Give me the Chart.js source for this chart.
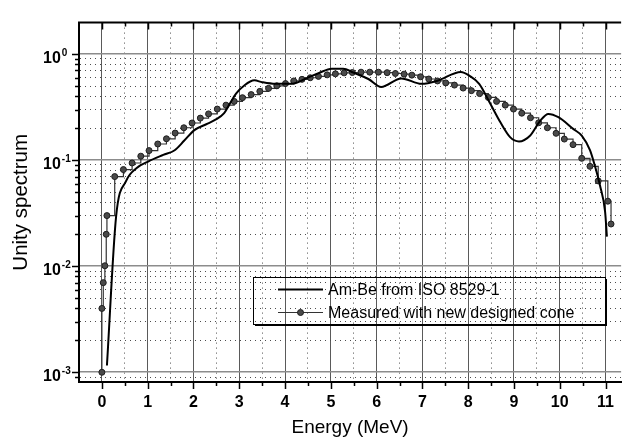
<!DOCTYPE html>
<html>
<head>
<meta charset="utf-8">
<script src="https://cdn.jsdelivr.net/npm/chart.js@4.4.0/dist/chart.umd.min.js"></script>
<style>
  html, body { margin: 0; padding: 0; background: #fff; overflow: hidden; }
</style>
</head>
<body>
<canvas id="myChart" width="625" height="437"></canvas>
<script>
// Am-Be reference spectrum (ISO 8529-1)
const isoEnergy = [0.11, 0.31, 0.53, 0.76, 1.01, 1.34, 1.59, 1.80, 2.02, 2.28, 2.49, 2.67, 2.78, 2.93, 3.11, 3.33,
  3.50, 3.79, 4.15, 4.51, 4.73, 5.02, 5.27, 5.49, 5.82, 6.10, 6.54, 6.98, 7.33, 7.84, 8.03, 8.24, 8.46, 8.71,
  8.92, 9.11, 9.35, 9.57, 9.75, 9.97, 10.30, 10.48, 10.66, 10.77, 10.88, 10.99, 11.03];
const isoValue = [0.00116, 0.0294, 0.0637, 0.0843, 0.097, 0.112, 0.124, 0.153, 0.192, 0.218, 0.242, 0.278, 0.332, 0.424, 0.506, 0.565,
  0.543, 0.524, 0.524, 0.603, 0.660, 0.729, 0.729, 0.670, 0.582, 0.489, 0.590, 0.524, 0.561, 0.679, 0.624, 0.524, 0.356, 0.225,
  0.164, 0.150, 0.170, 0.234, 0.273, 0.254, 0.196, 0.170, 0.124, 0.0874, 0.0573, 0.0327, 0.019];

// measured with the new cone
const measEnergy = [0, 0, 0.03, 0.065, 0.095, 0.11,
  0.28, 0.47, 0.66, 0.85, 1.03, 1.22, 1.41, 1.60, 1.79, 1.97, 2.15, 2.33, 2.52, 2.71, 2.89, 3.07,
  3.26, 3.45, 3.64, 3.82, 4.01, 4.19, 4.37, 4.55, 4.73, 4.92, 5.10, 5.29, 5.47, 5.66, 5.85, 6.04,
  6.23, 6.41, 6.60, 6.77, 6.96, 7.14, 7.33, 7.51, 7.70, 7.89, 8.07, 8.25, 8.44, 8.62, 8.81, 8.99,
  9.17, 9.36, 9.54, 9.73, 9.92, 10.10, 10.29, 10.48, 10.66, 10.84, 11.05, 11.12];
const measValue = [0.001, 0.004, 0.007, 0.0101, 0.02, 0.03,
  0.070, 0.0815, 0.094, 0.109, 0.123, 0.142, 0.159, 0.180, 0.202, 0.224, 0.249, 0.273, 0.303, 0.330, 0.358, 0.388,
  0.415, 0.445, 0.475, 0.502, 0.527, 0.558, 0.578, 0.598, 0.616, 0.637, 0.651, 0.665, 0.670, 0.675, 0.675, 0.675,
  0.668, 0.656, 0.647, 0.633, 0.611, 0.582, 0.558, 0.535, 0.510, 0.478, 0.452, 0.424, 0.390, 0.358, 0.330, 0.303,
  0.277, 0.251, 0.225, 0.202, 0.179, 0.158, 0.140, 0.104, 0.0874, 0.0637, 0.041, 0.025];

const seriesLabels = ['Am-Be from ISO 8529-1', 'Measured with new designed cone'];
const xTicks = [0, 0.5, 1, 1.5, 2, 2.5, 3, 3.5, 4, 4.5, 5, 5.5, 6, 6.5, 7, 7.5, 8, 8.5, 9, 9.5, 10, 10.5, 11];
const yDecades = [1e-3, 1e-2, 1e-1, 1];
const yTickBase = '10';
const yTickExp = ['-3', '-2', '-1', '0'];

const FONT = "'Liberation Sans', Arial, sans-serif";

function isDecade(v) {
  const l = Math.log10(v);
  return Math.abs(l - Math.round(l)) < 1e-6;
}

function yTickValues(min, max) {
  const out = [];
  for (let d = -4; d <= 0; d++) {
    for (let m = 1; m <= 9; m++) {
      const v = m * Math.pow(10, d);
      if (v >= min * 0.999 && v <= max * 1.001) out.push(v);
    }
  }
  return out;
}

// top border, tick marks, power-of-ten labels and the in-plot legend
const framePlugin = {
  id: 'frame',
  afterDatasetsDraw(chart) {
    const c = chart.ctx;
    const area = chart.chartArea;
    const xs = chart.scales.x;
    const ys = chart.scales.y;
    c.save();
    c.strokeStyle = '#000';
    c.lineWidth = 2;
    c.beginPath();
    c.moveTo(area.left - 1, area.top);
    c.lineTo(area.right, area.top);
    c.stroke();

    c.lineWidth = 1.5;
    xs.ticks.forEach(t => {
      const px = Math.round(xs.getPixelForValue(t.value)) + 0.5;
      const len = Number.isInteger(t.value) ? 7 : 4;
      c.beginPath();
      c.moveTo(px, area.bottom);
      c.lineTo(px, area.bottom + len);
      c.moveTo(px, area.top);
      c.lineTo(px, area.top + len);
      c.stroke();
    });
    ys.ticks.forEach(t => {
      const py = Math.round(ys.getPixelForValue(t.value)) + 0.5;
      const len = isDecade(t.value) ? 7 : 4;
      c.beginPath();
      c.moveTo(area.left, py);
      c.lineTo(area.left - len, py);
      c.stroke();
    });

    // y labels: 10 with a raised exponent
    c.fillStyle = '#000';
    c.textAlign = 'left';
    c.textBaseline = 'alphabetic';
    yDecades.forEach((v, i) => {
      const py = ys.getPixelForValue(v);
      c.font = 'bold 16px ' + FONT;
      c.fillText(yTickBase, 43, py + 8.5);
      const w = c.measureText(yTickBase).width;
      c.font = 'bold 10px ' + FONT;
      c.fillText(yTickExp[i], 43 + w + 1, py + 1.5);
    });

    // legend
    const bx = 253, by = 277, bw = 352, bh = 47;
    c.fillStyle = '#000';
    c.fillRect(bx + 2, by + bh, bw, 2);
    c.fillRect(bx + bw, by + 2, 2, bh);
    c.strokeStyle = '#000';
    c.lineWidth = 1;
    c.strokeRect(bx + 0.5, by + 0.5, bw, bh);
    const rows = [by + 12.5, by + 35.5];
    chart.data.datasets.forEach((ds, i) => {
      c.strokeStyle = ds.borderColor;
      c.lineWidth = ds.borderWidth;
      c.beginPath();
      c.moveTo(278, rows[i]);
      c.lineTo(323, rows[i]);
      c.stroke();
      if (ds.pointRadius > 0) {
        c.beginPath();
        c.arc(300.5, rows[i], ds.pointRadius, 0, Math.PI * 2);
        c.fillStyle = ds.pointBackgroundColor;
        c.fill();
        c.lineWidth = 1;
        c.strokeStyle = ds.pointBorderColor;
        c.stroke();
      }
      c.fillStyle = '#000';
      c.font = '16px ' + FONT;
      c.textBaseline = 'middle';
      c.fillText(ds.label, 328, rows[i] + 1);
    });
    c.restore();
  }
};

const ctx = document.getElementById('myChart').getContext('2d');
const chart = new Chart(ctx, {
  type: 'line',
  data: {
    datasets: [{
      label: seriesLabels[0],
      data: isoEnergy.map((e, i) => ({ x: e, y: isoValue[i] })),
      borderColor: '#000',
      borderWidth: 2,
      pointRadius: 0,
      cubicInterpolationMode: 'monotone',
      fill: false
    }, {
      label: seriesLabels[1],
      data: measEnergy.map((e, i) => ({ x: e, y: measValue[i] })),
      borderColor: '#333',
      borderWidth: 1.2,
      stepped: true,
      pointRadius: 3,
      pointBackgroundColor: '#4a4a4a',
      pointBorderColor: '#1e1e1e',
      pointBorderWidth: 1,
      fill: false
    }]
  },
  options: {
    responsive: false,
    animation: false,
    devicePixelRatio: 1,
    layout: { padding: { top: 12, left: 0, right: 0, bottom: 0 }, autoPadding: false },
    plugins: { legend: { display: false }, tooltip: { enabled: false } },
    scales: {
      x: {
        type: 'linear',
        min: -0.5,
        max: 11.34,
        afterBuildTicks: scale => { scale.ticks = xTicks.map(v => ({ value: v })); },
        afterFit: scale => { scale.height = 55; },
        ticks: {
          autoSkip: false,
          maxRotation: 0,
          padding: 11,
          color: '#000',
          font: { family: FONT, size: 16, weight: 'bold' },
          callback: v => Number.isInteger(v) ? String(v) : ''
        },
        grid: {
          drawTicks: false,
          lineWidth: 1,
          color: c => (c.tick && Number.isInteger(c.tick.value)) ? '#5a5a5a' : '#4d4d4d'
        },
        border: {
          color: '#000',
          width: 2,
          dash: c => (c.tick && !Number.isInteger(c.tick.value)) ? [1, 4] : []
        },
        title: {
          display: true,
          text: 'Energy (MeV)',
          color: '#000',
          padding: 0,
          font: { family: FONT, size: 19, lineHeight: 1 }
        }
      },
      y: {
        type: 'logarithmic',
        min: 8.1e-4,
        max: 1.98,
        afterBuildTicks: scale => { scale.ticks = yTickValues(scale.min, scale.max).map(v => ({ value: v })); },
        afterFit: scale => { scale.width = 79; },
        ticks: {
          autoSkip: false,
          padding: 13,
          font: { family: FONT, size: 16, weight: 'bold' },
          callback: () => ''
        },
        grid: {
          drawTicks: false,
          lineWidth: c => (c.tick && isDecade(c.tick.value)) ? 1.6 : 1,
          color: c => (c.tick && isDecade(c.tick.value)) ? '#8c8c8c' : '#4d4d4d'
        },
        border: {
          color: '#000',
          width: 2,
          dash: c => (c.tick && !isDecade(c.tick.value)) ? [1, 4] : []
        },
        title: {
          display: true,
          text: 'Unity spectrum',
          color: '#000',
          padding: { top: 11, bottom: 0 },
          font: { family: FONT, size: 20.5, lineHeight: 1 }
        }
      }
    }
  },
  plugins: [framePlugin]
});
</script>
</body>
</html>
